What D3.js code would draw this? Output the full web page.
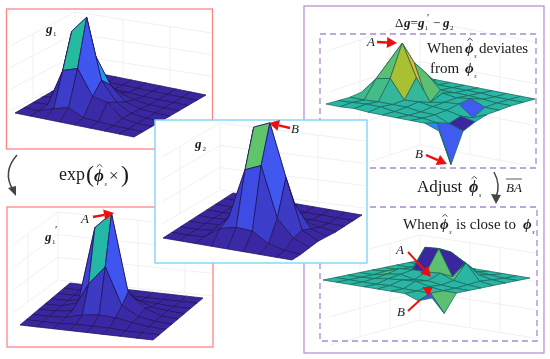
<!DOCTYPE html>
<html><head><meta charset="utf-8">
<style>html,body{margin:0;padding:0;background:#fff}svg{display:block}text{font-family:"Liberation Serif",serif;fill:#1a1a1a}</style>
<script src="https://cdn.jsdelivr.net/npm/d3@7/dist/d3.min.js"></script>
</head><body><svg id="c" width="550" height="359"></svg>
<script>
const gridIndex=[0,1,2,3,4,5,6,7,8];
const heightsG1=[
[0,0,0,0,0,0,0,0,0],
[0,0,5,9,2,1,0,0,0],
[0,1,38,43,18,15,2,0,0],
[0,4,72,89,29,10,2,0,0],
[0,3,40,45,19,5,1,0,0],
[0,1,5,8,6,2,0,0,0],
[0,0,0,1,1,0,0,0,0],
[0,0,0,0,0,0,0,0,0],
[0,0,0,0,0,0,0,0,0]];
const heightsG2=[
[0,0,0,0,0,0,0,0,0],
[0,0,1,12,16,15,5,1,0],
[0,0,2,18,68,75,25,8,1],
[0,0,2,20,105,112,60,10,2],
[0,0,1,5,40,45,28,6,1],
[0,0,0,2,6,8,5,2,0],
[0,0,0,0,1,1,1,0,0],
[0,0,0,0,0,0,0,0,0],
[0,0,0,0,0,0,0,0,0]];
const heightsG1Prime=[
[0,0,0,0,0,0,0,0,0],
[0,0,0,1,1,1,0,0,0],
[0,0,1,5,7,6,3,1,0],
[0,0,2,31,50,13,4,1,0],
[0,0,5,82,98,21,7,1,0],
[0,0,3,10,25,10,3,1,0],
[0,0,1,2,3,2,1,0,0],
[0,0,0,0,0,0,0,0,0],
[0,0,0,0,0,0,0,0,0]];
const heightsDelta1=[
[0,0,1,0,0,0,0,0,-5],
[0,1,2,2,0,-1,-1,-3,-42],
[0,0,1,1,1,-1,-1,-7,-12],
[2,18,21,2,3,1,0,-3,-6],
[0,31,53,21,-1,2,3,-8,-2],
[0,8,30,-9,5,3,5,-1,-1],
[0,2,16,2,2,2,1,0,0],
[0,0,1,1,1,1,0,0,0],
[0,0,0,0,0,0,0,0,0]];
const heightsDelta2=[
[0,0,0,0,0,0,0,-5,0],
[0,0,0,0,1,0,0,0,-18],
[0,0,1,3,4,5,2,0,0],
[0,0,3,5,2,3,1,0,0],
[0,1,6,7,7,8,3,1,0],
[0,0,2,27,28,2,18,2,0],
[0,0,1,3,22,14,4,1,0],
[0,0,0,1,2,2,1,0,0],
[0,0,0,0,0,0,0,0,0]];
const overridesG1=[[3,3,56]];
const overridesDelta1=[[2,3,35],[2,4,52],[3,4,-6],[7,1,-35],[7,0,-14],[7,2,-60],[6,4,-35],[2,5,15],[1,3,15],[1,4,15],[0,3,13],[0,2,9]];
const overridesDelta2=[[4,4,-22],[7,1,-22],[7,0,14],[4,5,22],[3,4,22],[1,3,-22],[5,4,-22],[5,5,22]];
const gStops=[0,0.1,0.25,0.45,0.62,0.63,0.66,0.8];
const gColors=["#3a27a0","#3a2aa8","#3c3cc8","#3f55f0","#3f58f0","#1e9af0","#1fb8a8","#5fc46a"];
const d1Stops=[-60,-40,-20,-10,-3,4,15,35,52];
const d1Colors=["#3a27a0","#3f55f0","#3f70f0","#1e9af0","#2ab5a5","#2ab5a5","#5cc070","#a8c030","#f5b030"];
const d2Stops=[-22,-6,8,14,22];
const d2Colors=["#5cc070","#2ab5a5","#2ab5a5","#3f55f0","#3a27a0"];

const svg=d3.select("#c");
const defs=svg.append("defs");
defs.append("filter").attr("id","soft").attr("x",0).attr("y",0).attr("width",1).attr("height",1)
  .append("feGaussianBlur").attr("stdDeviation",0.3);
const root=svg.append("g").attr("filter","url(#soft)");
root.append("rect").attr("width",550).attr("height",359).attr("fill","#fff");
let clipId=0;

function surface(g,heights,view,color,edge,overrides){
  const n=gridIndex.length-1;
  const ux=d3.scaleLinear().domain([0,n]).range([view.L[0],view.F[0]]);
  const uy=d3.scaleLinear().domain([0,n]).range([view.L[1],view.F[1]]);
  const vx=d3.scaleLinear().domain([0,n]).range([0,view.B[0]-view.L[0]]);
  const vy=d3.scaleLinear().domain([0,n]).range([0,view.B[1]-view.L[1]]);
  const hy=d3.scaleLinear().domain([0,100]).range([0,100]);
  const P=(i,j)=>[ux(i)+vx(j),uy(i)+vy(j)-hy(heights[j][i])];
  const faces=d3.cross(gridIndex.slice(0,-1),gridIndex.slice(0,-1)).map(([i,j])=>{
    const m=d3.mean([heights[j][i],heights[j][i+1],heights[j+1][i],heights[j+1][i+1]]);
    const o=(overrides||[]).find(a=>a[0]===i&&a[1]===j);
    return {i,j,val:o?o[2]:m,pts:[P(i,j),P(i+1,j),P(i+1,j+1),P(i,j+1)]};
  }).sort((a,b)=>(a.i-a.j)-(b.i-b.j));
  const line=d3.line().curve(d3.curveLinearClosed);
  g.selectAll(null).data(faces).join("path")
   .attr("d",d=>line(d.pts)).attr("fill",d=>color(d.val))
   .attr("stroke",edge).attr("stroke-width",0.75).attr("stroke-linejoin","round");
}
function walls(g,w){
  const c="#eeeef1";
  const L=(x1,y1,x2,y2)=>g.append("line").attr("x1",x1).attr("y1",y1).attr("x2",x2).attr("y2",y2).attr("stroke",c).attr("stroke-width",0.9);
  d3.range(0,4).forEach(k=>{
    const t=k/3,y=w.top+(w.bot-w.top)*t;
    L(w.cx,y,w.lx,y+w.ldy);
    L(w.cx,y,w.rx,y+w.rdy);
  });
  L(w.cx,w.top,w.cx,w.bot);
  w.lv.forEach(x=>{const f=(w.cx-x)/(w.cx-w.lx);L(x,w.top+w.ldy*f,x,w.bot+w.ldy*f);});
  w.rv.forEach(x=>{const f=(x-w.cx)/(w.rx-w.cx);L(x,w.top+w.rdy*f,x,w.bot+w.rdy*f);});
}
function box(x,y,w,h,stroke,fill,sw,dash){
  const r=root.append("rect").attr("x",x).attr("y",y).attr("width",w).attr("height",h)
    .attr("fill",fill).attr("stroke",stroke).attr("stroke-width",sw);
  if(dash) r.attr("stroke-dasharray",dash);
}
function clipGroup(x,y,w,h){
  const id="clip"+(clipId++);
  defs.append("clipPath").attr("id",id).append("rect").attr("x",x).attr("y",y).attr("width",w).attr("height",h);
  return root.append("g").attr("clip-path","url(#"+id+")");
}
function runs(parts){
  const t=root.append("text");
  parts.forEach(([s,x,y,size,st])=>{
    const p=t.append("tspan").attr("x",x).attr("y",y).attr("font-size",size).text(s);
    if(st&&st.includes("i")) p.attr("font-style","italic");
    if(st&&st.includes("b")) p.attr("font-weight","bold");
  });
  return t;
}
function phiRuns(x,y,hat,size=15){
  if(hat){
    const cx=x+size*0.33, top=y-size*0.98, d=size*0.17;
    root.append("path").attr("d",d3.line()([[cx-d,top+d*0.9],[cx,top],[cx+d,top+d*0.9]]))
      .attr("fill","none").attr("stroke","#222").attr("stroke-width",0.8);
  }
  return [["ϕ",x,y,size,"ib"],["s",x+size*0.62,y+4.5,6,"i"]];
}
function arrow(x1,y1,x2,y2,color="#ee1111",w=2.4,len=10,hw=5.5){
  const a=Math.atan2(y2-y1,x2-x1),bx=x2-len*Math.cos(a),by=y2-len*Math.sin(a);
  root.append("line").attr("x1",x1).attr("y1",y1).attr("x2",bx).attr("y2",by).attr("stroke",color).attr("stroke-width",w);
  const n=[-Math.sin(a),Math.cos(a)];
  root.append("path").attr("d",d3.line()([[x2,y2],[bx+n[0]*hw,by+n[1]*hw],[bx-n[0]*hw,by-n[1]*hw]])+"Z").attr("fill",color);
}
function gColor(peak){
  const s=d3.scaleLinear().domain(gStops).range(gColors).clamp(true);
  return v=>s(v/peak);
}
const edgeG="#20165a", edgeD="#1a6a5a";

box(6.5,9,206,140,"#ff8585","#fff",1.3);
let g=clipGroup(7,10,205,138);
walls(g,{cx:75,top:12,bot:77,lx:10,ldy:34,rx:212,rdy:21,lv:[33],rv:[123,170]});
surface(root.append("g"),heightsG1,{L:[15,113],F:[134,137],B:[87,71]},gColor(89),edgeG,overridesG1);

box(7,207,206,140,"#ff8585","#fff",1.3);
g=clipGroup(8,208,205,138);
walls(g,{cx:58,top:212,bot:280,lx:14,ldy:32,rx:212,rdy:16,lv:[28],rv:[138,185]});
surface(root.append("g"),heightsG1Prime,{L:[20,325],F:[153,340],B:[70,283]},gColor(98),edgeG);

box(304,6,240,347,"#b594d6","#fff",1.3);
g=clipGroup(305,7,238,345);
walls(g,{cx:420,top:20,bot:145,lx:330,ldy:30,rx:535,rdy:22,lv:[360,390],rv:[470,500]});
walls(g,{cx:420,top:235,bot:320,lx:330,ldy:25,rx:535,rdy:18,lv:[360,390],rv:[470,500]});
box(320,34,216,134,"#a98ad0","none",1.3,"6,4");
box(320,207,217,134,"#a98ad0","none",1.3,"6,4");
const d1Color=d3.scaleLinear().domain(d1Stops).range(d1Colors).clamp(true);
surface(root.append("g"),heightsDelta1,{L:[326,104],F:[439,126],B:[422,77]},d1Color,edgeD,overridesDelta1);
const d2Color=d3.scaleLinear().domain(d2Stops).range(d2Colors).clamp(true);
surface(root.append("g"),heightsDelta2,{L:[323,280],F:[432,298],B:[421,260]},d2Color,edgeD,overridesDelta2);

box(155,120,212,143,"#7fd6f7","#fff",1.4);
g=clipGroup(156,121,210,141);
walls(g,{cx:220,top:123,bot:190,lx:162,ldy:34,rx:365,rdy:18,lv:[180],rv:[270,318]});
surface(root.append("g"),heightsG2,{L:[163,238],F:[292,260],B:[233,193]},gColor(112),edgeG);

runs([["g",46,33,13,"ib"],["1",53,35.5,7]]);
runs([["g",195,148,13,"ib"],["2",202.5,150.5,7]]);
runs([["g",45,241,13,"ib"],["1",52,243.5,7],["′",55,233,11]]);
runs([["exp",59,180,18],["(",86,182,24],...phiRuns(94,181,true,17),["×",109,181,17],[")",121,182,24]]);
root.append("path").attr("d","M17,155 Q2,172 13,190").attr("fill","none").attr("stroke","#444").attr("stroke-width",1.5);
root.append("path").attr("d",d3.line()([[16,196],[8,188],[16,186]])+"Z").attr("fill","#444");

runs([["Δ",395,27,13],["g",404,27,13,"ib"],["=",410.5,27,13],["g",418,27,13,"ib"],["1",424.5,29.5,7],["′",427,21,11],["−",433,27,13],["g",443,27,13,"ib"],["2",450,29.5,7]]);
runs([["When",427,53,15],...phiRuns(465,53,true),["deviates",479,53,15]]);
runs([["from",430,73,15],...phiRuns(465,73,false)]);

runs([["A",367,46,13,"i"]]);
arrow(377,42,397,43);
runs([["B",415,158,13,"i"]]);
arrow(426,155,447,164);
runs([["B",291,133,13,"i"]]);
arrow(290,128,269,123);
runs([["A",81,223,13,"i"]]);
arrow(93,217,114,213);

runs([["Adjust",417,192,17],...phiRuns(469,192,true,16)]);
root.append("path").attr("d","M494,172 Q501,185 496,197").attr("fill","none").attr("stroke","#444").attr("stroke-width",1.5);
root.append("path").attr("d",d3.line()([[496,204],[491,194],[501,195]])+"Z").attr("fill","#444");
runs([["BA",506,192,13,"i"]]);
root.append("line").attr("x1",506).attr("y1",179).attr("x2",522).attr("y2",179).attr("stroke","#333").attr("stroke-width",0.8);

runs([["When",403,229,15],...phiRuns(440,229,true),["is close to",456,229,15],...phiRuns(523,229,false)]);

runs([["A",396,254,13,"i"]]);
arrow(408,252,431,277,"#ee1111",2);
runs([["B",397,316,13,"i"]]);
root.append("line").attr("x1",408).attr("y1",311).attr("x2",420).attr("y2",300).attr("stroke","#ee1111").attr("stroke-width",2);
arrow(425,292,433,287,"#ee1111",0.5,9,5.5);
</script></body></html>
